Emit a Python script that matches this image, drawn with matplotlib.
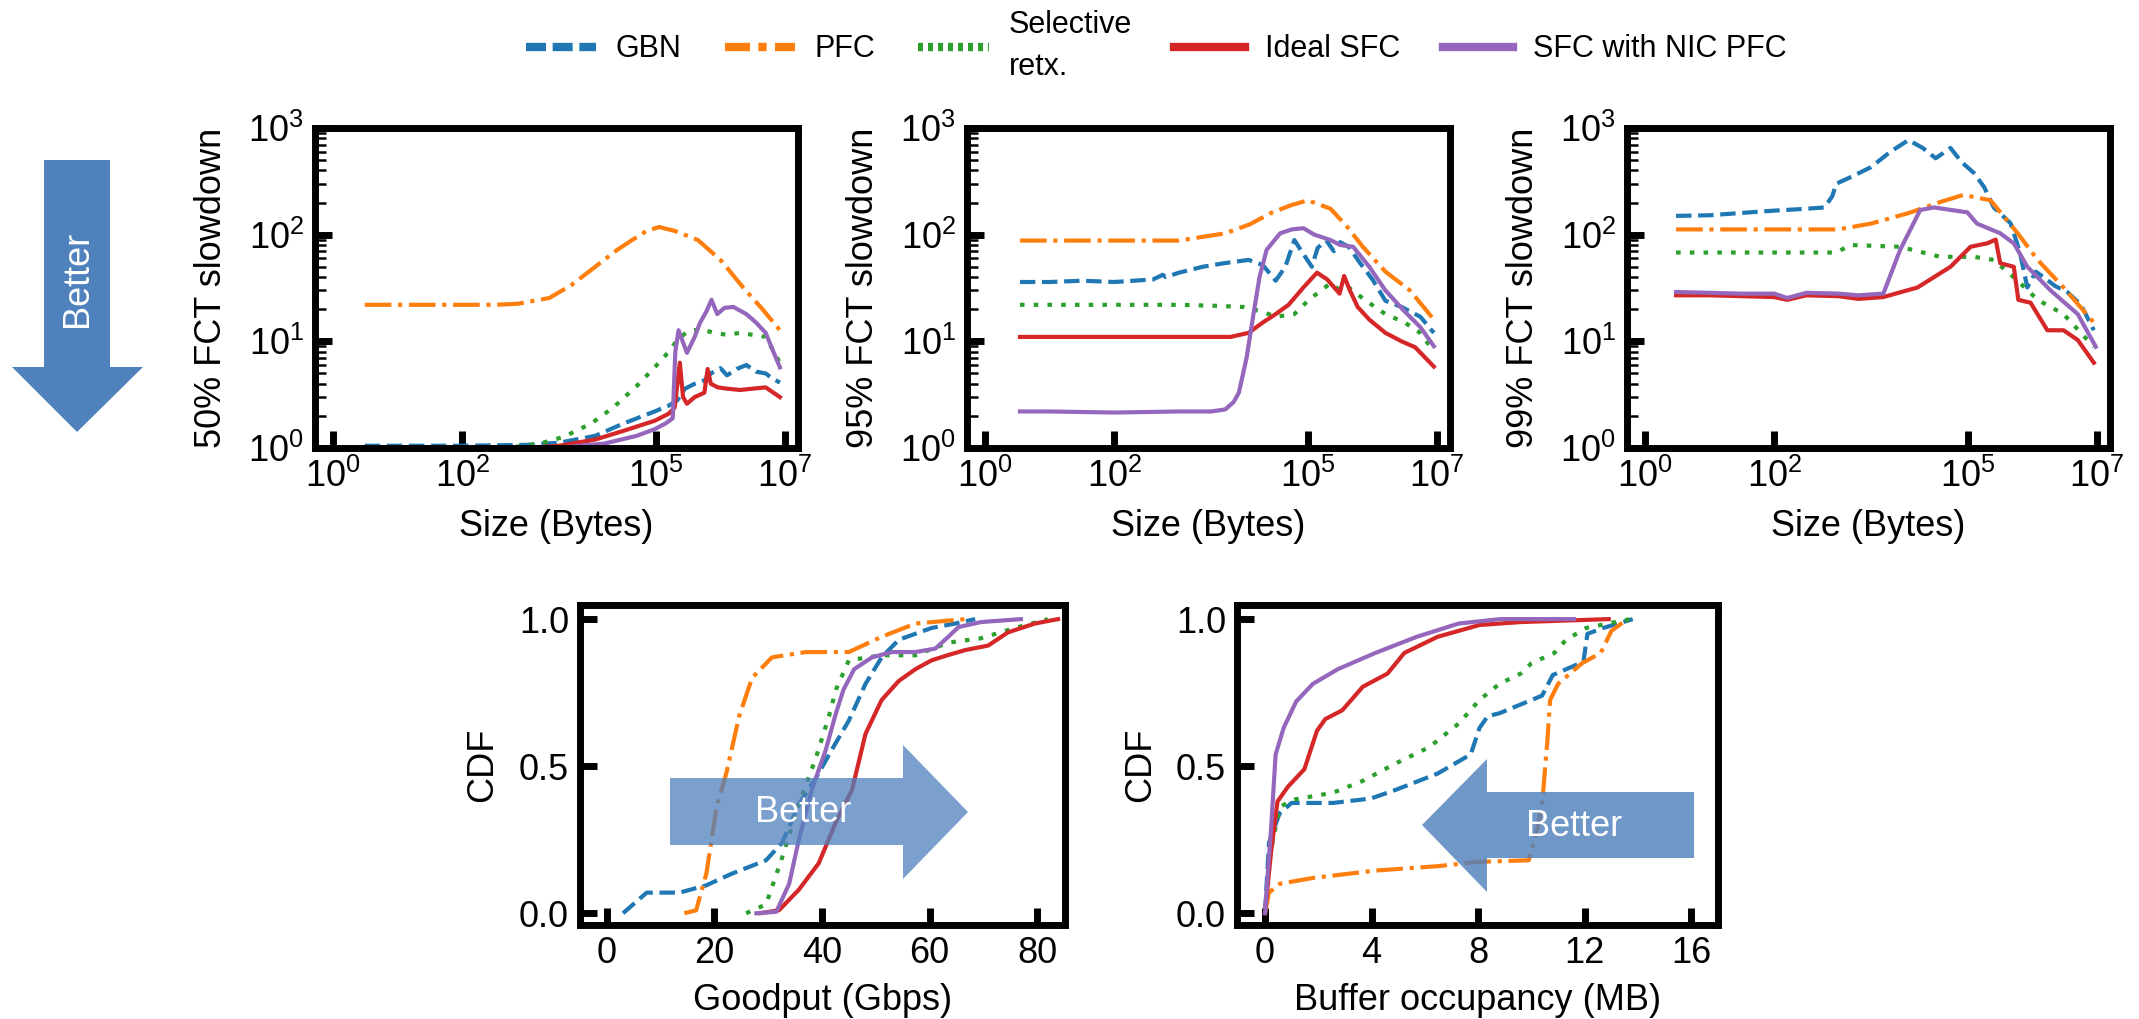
import matplotlib

matplotlib.use("Agg")
import matplotlib.pyplot as plt  # noqa: E402
import numpy as np  # noqa: E402
from matplotlib.lines import Line2D  # noqa: E402
from matplotlib.patches import Polygon  # noqa: E402
from matplotlib.ticker import LogLocator, NullLocator, LogFormatterMathtext  # noqa: E402

plt.rcParams["font.family"] = ["Liberation Sans", "DejaVu Sans"]
plt.rcParams["mathtext.fontset"] = "custom"
plt.rcParams["mathtext.rm"] = "Liberation Sans"
plt.rcParams["mathtext.it"] = "Liberation Sans:italic"
plt.rcParams["mathtext.bf"] = "Liberation Sans:bold"
plt.rcParams["mathtext.default"] = "regular"

series = ["GBN", "PFC", "Selective\nretx.", "Ideal SFC", "SFC with NIC PFC"]
colors = ["#1f77b4", "#ff7f0e", "#2ca02c", "#d62728", "#9467bd"]
styles = ["--", "-.", (0, (1.1, 2.2)), "-", "-"]

# --- FCT slowdown vs flow size; x given as log10(bytes) ---
p50_gbn_x = [0.49, 1, 2, 3, 3.5, 4.06, 4.5, 4.98, 5.2, 5.33, 5.45, 5.6, 5.75, 5.85, 6.0, 6.1, 6.25, 6.4, 6.55, 6.7, 6.8, 6.92]
p50_gbn_y = [1.05, 1.05, 1.05, 1.07, 1.12, 1.3, 1.7, 2.2, 2.5, 2.8, 3.6, 4.0, 4.3, 5.0, 5.6, 4.8, 5.5, 6.0, 5.2, 5.0, 4.5, 4.1]
p50_pfc_x = [0.49, 1.0, 1.5, 2.0, 2.5, 2.86, 3.35, 3.7, 4.06, 4.4, 4.63, 4.85, 5.05, 5.3, 5.65, 6.0, 6.35, 6.65, 6.92]
p50_pfc_y = [22, 22, 22, 22, 22, 22.5, 25.5, 34, 50, 72, 89, 108, 118, 108, 89, 58, 32, 20, 12.7]
p50_sel_x = [0.49, 1, 2, 2.8, 3.2, 3.57, 4.0, 4.34, 4.7, 4.98, 5.2, 5.33, 5.5, 5.7, 5.9, 6.1, 6.3, 6.5, 6.7, 6.8, 6.92]
p50_sel_y = [1.0, 1.0, 1.0, 1.02, 1.1, 1.27, 1.7, 2.4, 3.8, 5.7, 8, 10.3, 12.5, 13, 12, 11.5, 12, 11.5, 11, 8.5, 6.3]
p50_red_x = [0.49, 1, 2, 3, 3.5, 4.06, 4.5, 4.98, 5.2, 5.29, 5.37, 5.42, 5.48, 5.6, 5.75, 5.8, 5.85, 5.96, 6.1, 6.3, 6.5, 6.7, 6.92]
p50_red_y = [1.0, 1.0, 1.0, 1.0, 1.05, 1.2, 1.45, 1.8, 2.1, 2.4, 6.3, 3.0, 2.6, 3.0, 3.3, 5.5, 4.0, 3.7, 3.6, 3.5, 3.6, 3.7, 3.0]
p50_pur_x = [0.49, 1, 2, 3, 3.6, 4.2, 4.7, 4.98, 5.15, 5.26, 5.3, 5.35, 5.48, 5.6, 5.68, 5.78, 5.86, 5.95, 6.06, 6.2, 6.4, 6.55, 6.7, 6.8, 6.92]
p50_pur_y = [1.0, 1.0, 1.0, 1.0, 1.02, 1.1, 1.3, 1.5, 1.7, 1.9, 8, 12.7, 7.8, 11, 14.8, 19, 24.5, 18, 20.6, 21, 18, 15, 12, 8.5, 5.7]

p95_gbn_x = [0.54, 1, 1.5, 2, 2.3, 2.6, 2.75, 2.8, 3.0, 3.37, 3.7, 4.08, 4.3, 4.5, 4.65, 4.79, 4.9, 5.06, 5.15, 5.28, 5.4, 5.5, 5.63, 5.8, 6.0, 6.2, 6.45, 6.74, 6.95]
p95_gbn_y = [36, 36, 37, 36, 37, 38, 42, 40, 44, 50, 54, 58, 52, 37, 50, 89, 70, 50, 75, 89, 70, 85, 77, 55, 38, 24, 21, 17, 12]
p95_pfc_x = [0.54, 1, 2, 3.0, 3.72, 4.1, 4.43, 4.75, 5.0, 5.35, 5.6, 5.85, 6.2, 6.58, 6.95]
p95_pfc_y = [88, 88, 88, 88, 103, 125, 160, 190, 210, 175, 120, 77, 45, 30, 16]
p95_sel_x = [0.54, 1, 2, 3, 3.6, 4.0, 4.29, 4.5, 4.79, 5.0, 5.2, 5.35, 5.5, 5.63, 5.9, 6.2, 6.5, 6.74, 6.95]
p95_sel_y = [22, 22, 22, 22, 21.5, 21, 19, 17, 18, 24, 30, 35, 30, 32, 24, 18, 15, 12, 8]
p95_red_x = [0.54, 1, 2, 3, 3.5, 3.8, 4.08, 4.3, 4.5, 4.7, 4.93, 5.14, 5.3, 5.49, 5.56, 5.65, 5.77, 5.95, 6.2, 6.45, 6.66, 6.95]
p95_red_y = [11, 11, 11, 11, 11, 11, 12, 15, 18, 22, 32, 44, 38, 28, 41, 30, 21, 16, 12, 10, 8.8, 5.8]
p95_pur_x = [0.54, 1, 2, 3, 3.5, 3.72, 3.85, 3.93, 4.05, 4.15, 4.25, 4.36, 4.57, 4.75, 4.93, 5.1, 5.35, 5.5, 5.7, 5.95, 6.2, 6.5, 6.74, 6.95]
p95_pur_y = [2.2, 2.2, 2.15, 2.2, 2.2, 2.3, 2.7, 3.3, 7, 17, 40, 72, 103, 112, 115, 100, 89, 80, 77, 50, 30, 19, 13.6, 9]

p99_gbn_x = [0.48, 1, 1.5, 2, 2.5, 2.78, 2.9, 2.96, 3.2, 3.5, 3.8, 4.08, 4.3, 4.5, 4.73, 4.9, 5.09, 5.25, 5.4, 5.66, 5.8, 5.92, 6.05, 6.17, 6.35, 6.54, 6.75, 6.95]
p99_gbn_y = [150, 152, 160, 168, 175, 180, 230, 300, 350, 430, 600, 770, 650, 520, 650, 480, 380, 280, 180, 128, 70, 32, 45, 40, 33, 29, 22, 12.7]
p99_pfc_x = [0.48, 1, 2, 2.99, 3.5, 4.09, 4.6, 4.93, 5.35, 5.77, 6.08, 6.48, 6.95]
p99_pfc_y = [112, 112, 112, 112, 127, 160, 205, 236, 210, 103, 58, 32, 15]
p99_sel_x = [0.48, 1, 2, 2.96, 3.18, 3.95, 4.57, 5.09, 5.4, 5.77, 6.08, 6.48, 6.95]
p99_sel_y = [68, 68, 68, 68, 80, 77, 62, 62, 58, 37, 24.5, 18, 8.9]
p99_red_x = [0.48, 1, 1.5, 2, 2.2, 2.5, 3, 3.3, 3.69, 4.22, 4.73, 5.04, 5.3, 5.43, 5.5, 5.71, 5.78, 5.97, 6.23, 6.48, 6.7, 6.95]
p99_red_y = [27, 27, 26.5, 26, 24.5, 27, 26.5, 25, 26, 32, 50, 77, 83, 90, 54, 50, 24.5, 23, 12.7, 12.7, 10.3, 6.3]
p99_pur_x = [0.48, 1, 1.5, 2, 2.2, 2.5, 3, 3.3, 3.69, 3.95, 4.26, 4.47, 4.99, 5.14, 5.5, 5.71, 5.92, 6.28, 6.7, 6.98]
p99_pur_y = [29, 28.5, 28, 28, 25.5, 28.5, 28, 27, 28, 72, 170, 180, 162, 127, 103, 83, 50, 30, 18, 8.9]

# --- goodput CDF (Gbps) ---
gp_gbn_x = [3, 7.4, 13.5, 18.5, 23.3, 29.6, 32.6, 35.7, 38.9, 41.8, 45, 48.1, 51.1, 54.3, 60.4, 64.8, 68.5]
gp_gbn_y = [0.0, 0.07, 0.07, 0.095, 0.135, 0.18, 0.24, 0.37, 0.46, 0.555, 0.655, 0.78, 0.87, 0.93, 0.97, 0.985, 1.0]
gp_pfc_x = [14.4, 16.6, 18.5, 20.4, 22.2, 24.6, 27, 30.7, 37, 41.8, 45, 51.1, 57.4, 66.7]
gp_pfc_y = [0.0, 0.01, 0.135, 0.36, 0.475, 0.67, 0.80, 0.87, 0.888, 0.888, 0.888, 0.94, 0.985, 1.0]
gp_sel_x = [25.9, 29.6, 32.6, 35.7, 38.9, 41.3, 42.6, 45, 51.1, 57.4, 63.5, 69.6, 75.9, 82]
gp_sel_y = [0.0, 0.03, 0.19, 0.37, 0.53, 0.67, 0.76, 0.86, 0.877, 0.877, 0.92, 0.935, 0.97, 1.0]
gp_red_x = [28.5, 32, 35.7, 39.4, 42.6, 45.6, 48.1, 51.1, 54.3, 57.4, 60.4, 63.5, 66.7, 70.9, 74.6, 79.6, 83.9]
gp_red_y = [0.0, 0.01, 0.08, 0.17, 0.31, 0.42, 0.61, 0.725, 0.79, 0.83, 0.86, 0.878, 0.895, 0.91, 0.955, 0.985, 1.0]
gp_pur_x = [27.8, 31.5, 33.9, 35.7, 38.1, 40.7, 42.6, 44, 46, 49.3, 53, 57.4, 61.1, 63.5, 65.4, 69.6, 77]
gp_pur_y = [0.0, 0.005, 0.10, 0.25, 0.42, 0.555, 0.68, 0.76, 0.83, 0.87, 0.888, 0.888, 0.9, 0.94, 0.973, 0.99, 1.0]

# --- buffer occupancy CDF (MB) ---
bo_gbn_x = [0, 0.15, 0.55, 1.0, 2.56, 3.97, 4.92, 6.48, 7.72, 8.05, 8.36, 8.8, 9.6, 10.4, 10.8, 11.95, 12.1, 12.7, 13.8]
bo_gbn_y = [0.0, 0.24, 0.34, 0.375, 0.375, 0.39, 0.42, 0.475, 0.54, 0.63, 0.67, 0.68, 0.71, 0.74, 0.81, 0.855, 0.95, 0.97, 1.0]
bo_pfc_x = [0, 0.15, 0.55, 1.8, 4.14, 6.48, 8.05, 9.9, 10.23, 10.4, 10.6, 10.7, 11.0, 11.9, 12.6, 13.0, 13.6]
bo_pfc_y = [0.0, 0.07, 0.10, 0.12, 0.145, 0.16, 0.175, 0.18, 0.29, 0.37, 0.59, 0.725, 0.78, 0.85, 0.885, 0.96, 1.0]
bo_sel_x = [0, 0.15, 0.55, 1.0, 2.56, 3.67, 4.92, 6.17, 7.27, 8.05, 8.8, 9.6, 10.0, 10.86, 11.3, 12.06, 13.7]
bo_sel_y = [0.0, 0.18, 0.36, 0.385, 0.41, 0.45, 0.51, 0.565, 0.645, 0.725, 0.78, 0.815, 0.85, 0.885, 0.93, 0.97, 1.0]
bo_red_x = [0, 0.23, 0.47, 0.86, 1.48, 1.95, 2.26, 2.9, 3.67, 4.6, 5.23, 6.48, 8.05, 9.6, 12.9]
bo_red_y = [0.0, 0.21, 0.38, 0.43, 0.49, 0.62, 0.66, 0.69, 0.77, 0.815, 0.885, 0.94, 0.98, 0.99, 1.0]
bo_pur_x = [0, 0.23, 0.4, 0.7, 1.17, 1.8, 2.74, 4.14, 5.7, 7.27, 8.83, 11.6]
bo_pur_y = [0.0, 0.29, 0.54, 0.63, 0.72, 0.78, 0.83, 0.885, 0.94, 0.985, 1.0, 1.0]

fct_panels = [
    ("50% FCT slowdown", [(p50_gbn_x, p50_gbn_y), (p50_pfc_x, p50_pfc_y), (p50_sel_x, p50_sel_y), (p50_red_x, p50_red_y), (p50_pur_x, p50_pur_y)]),
    ("95% FCT slowdown", [(p95_gbn_x, p95_gbn_y), (p95_pfc_x, p95_pfc_y), (p95_sel_x, p95_sel_y), (p95_red_x, p95_red_y), (p95_pur_x, p95_pur_y)]),
    ("99% FCT slowdown", [(p99_gbn_x, p99_gbn_y), (p99_pfc_x, p99_pfc_y), (p99_sel_x, p99_sel_y), (p99_red_x, p99_red_y), (p99_pur_x, p99_pur_y)]),
]
cdf_panels = [
    ("Goodput (Gbps)", [0, 20, 40, 60, 80], (-5, 85.2),
     [(gp_gbn_x, gp_gbn_y), (gp_pfc_x, gp_pfc_y), (gp_sel_x, gp_sel_y), (gp_red_x, gp_red_y), (gp_pur_x, gp_pur_y)]),
    ("Buffer occupancy (MB)", [0, 4, 8, 12, 16], (-1.05, 17),
     [(bo_gbn_x, bo_gbn_y), (bo_pfc_x, bo_pfc_y), (bo_sel_x, bo_sel_y), (bo_red_x, bo_red_y), (bo_pur_x, bo_pur_y)]),
]

W, H = 2139, 1019
fig = plt.figure(figsize=(W / 100, H / 100), dpi=100)


def axes_px(x0, y0, x1, y1):
    return fig.add_axes([x0 / W, 1 - y1 / H, (x1 - x0) / W, (y1 - y0) / H])


def style(ax):
    for s in ax.spines.values():
        s.set_linewidth(5)
    ax.tick_params(which="major", direction="in", length=12, width=5, labelsize=26, pad=8,
                   top=False, right=False)
    ax.tick_params(which="minor", direction="in", length=8, width=1.8, top=False, right=False)


top_boxes = [(315, 128, 798, 448), (967, 128, 1450, 448), (1627, 128, 2110, 448)]
for (x0, y0, x1, y1), (ylabel, data) in zip(top_boxes, fct_panels):
    ax = axes_px(x0, y0, x1, y1)
    for (lx, ys), c, ls in zip(data, colors, styles):
        ax.plot(10 ** np.array(lx), ys, color=c, ls=ls, lw=3)
    ax.set_xscale("log")
    ax.set_yscale("log")
    ax.set_xlim(10 ** -0.28, 10 ** 7.2)
    ax.set_ylim(1, 1000)
    ax.set_xticks([1, 1e2, 1e5, 1e7])
    ax.xaxis.set_minor_locator(NullLocator())
    ax.xaxis.set_major_formatter(LogFormatterMathtext())
    ax.yaxis.set_major_locator(LogLocator(base=10, numticks=10))
    ax.yaxis.set_minor_locator(LogLocator(base=10, subs=np.arange(2, 10), numticks=10))
    ax.yaxis.set_major_formatter(LogFormatterMathtext())
    style(ax)
    ax.set_xlabel("Size (Bytes)", fontsize=26)
    ax.set_ylabel(ylabel, fontsize=26)
    ax.xaxis.set_label_coords(0.5, -0.19)
    ax.yaxis.set_label_coords(-0.178, 0.5)

bot_boxes = [(580, 605, 1065, 925), (1237, 605, 1718, 925)]
for (x0, y0, x1, y1), (xlabel, xt, xl, data) in zip(bot_boxes, cdf_panels):
    ax = axes_px(x0, y0, x1, y1)
    for (xs, ys), c, ls in zip(data, colors, styles):
        ax.plot(xs, ys, color=c, ls=ls, lw=3)
    ax.set_xlim(*xl)
    ax.set_ylim(-0.04, 1.048)
    ax.set_xticks(xt)
    ax.set_yticks([0.0, 0.5, 1.0])
    ax.set_yticklabels(["0.0", "0.5", "1.0"])
    style(ax)
    ax.set_xlabel(xlabel, fontsize=26)
    ax.set_ylabel("CDF", fontsize=26)
    ax.xaxis.set_label_coords(0.5, -0.18)
    ax.yaxis.set_label_coords(-0.165, 0.5)

# legend across the top
handles = [
    Line2D([], [], color=colors[0], lw=6, ls=(0, (2.4, 0.8))),
    Line2D([], [], color=colors[1], lw=6, ls=(0, (3, 1, 1, 1))),
    Line2D([], [], color=colors[2], lw=6, ls=(0, (0.6, 0.6))),
    Line2D([], [], color=colors[3], lw=6),
    Line2D([], [], color=colors[4], lw=6),
]
leg = fig.legend(handles, series, loc="center", bbox_to_anchor=(0.5405, 0.955), ncol=5, frameon=False,
                 prop={"size": 22}, handlelength=2.3, handletextpad=0.65, columnspacing=1.4)
leg.get_texts()[2].set_linespacing(1.5)

# "Better" arrows drawn on top, in figure pixels
arrow_blue = "#4F81BD"
down = [(44, 160), (110, 160), (110, 367), (143, 367), (77, 432), (12, 367), (44, 367)]
right = [(670, 778), (903, 778), (903, 745), (968, 812), (903, 879), (903, 845), (670, 845)]
left = [(1694, 792), (1487, 792), (1487, 759), (1422, 825), (1487, 892), (1487, 858), (1694, 858)]
for pts, alpha in [(down, 1.0), (right, 0.75), (left, 0.82)]:
    fig.patches.append(Polygon([(x / W, 1 - y / H) for x, y in pts], closed=True, transform=fig.transFigure,
                               facecolor=arrow_blue, edgecolor="none", alpha=alpha))
fig.text(77 / W, 1 - 279 / H, "Better", rotation=90, color="white", fontsize=26, ha="center", va="center")
fig.text(803 / W, 1 - 812 / H, "Better", color="white", fontsize=26, ha="center", va="center")
fig.text(1574 / W, 1 - 826 / H, "Better", color="white", fontsize=26, ha="center", va="center")

fig.savefig("out.png", dpi=100)
